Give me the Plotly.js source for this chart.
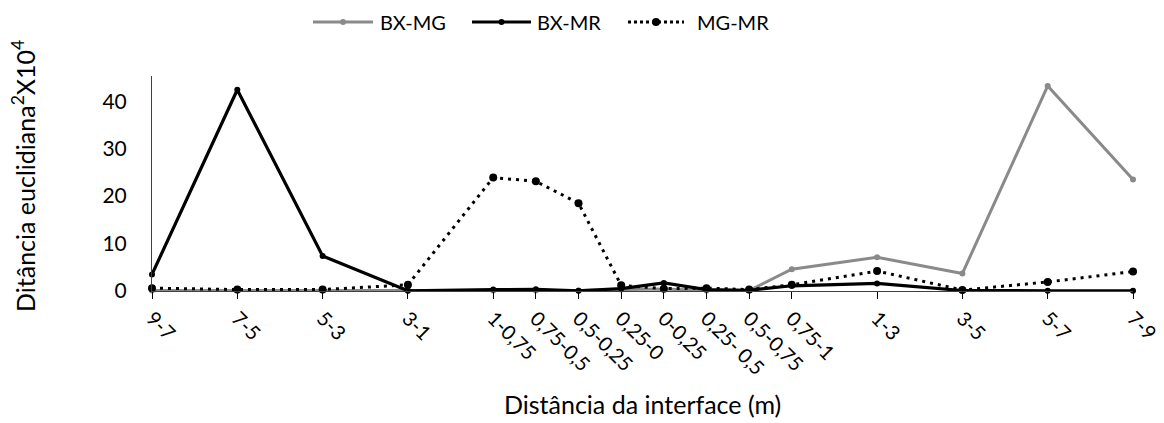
<!DOCTYPE html>
<html>
<head>
<meta charset="utf-8">
<script src="https://cdn.plot.ly/plotly-3.0.1.min.js"></script>
<style>html,body{margin:0;padding:0;background:#fff;}#chart{width:1164px;height:423px;}</style>
</head>
<body>
<div id="chart"></div>
<script>
// ---- data ----
var categories = ["9-7","7-5","5-3","3-1","1-0,75","0,75-0,5","0,5-0,25","0,25-0","0-0,25","0,25- 0,5","0,5-0,75","0,75-1","1-3","3-5","5-7","7-9"];
var xPos = [0,2,4,6,8,9,10,11,12,13,14,15,17,19,21,23];
var bxmg = [0.1,0.1,0.1,0.1,0.1,0.1,0.1,0.3,0.4,0.1,0.1,4.6,7.1,3.7,43.2,23.5];
var bxmr = [3.5,42.4,7.4,0.05,0.3,0.35,0.05,0.5,1.7,0.3,0.15,1.1,1.6,0.1,0.05,0.05];
var mgmr = [0.6,0.3,0.3,1.3,23.9,23.1,18.5,1.2,0.5,0.6,0.3,1.3,4.2,0.2,1.9,4.1];
var seriesNames = ["BX-MG","BX-MR","MG-MR"];

var FONT = "Lato, 'Open Sans', sans-serif";
var GRAY = "#8a8a8a";

// pixel helpers for the plot box (left 152, right 1133, top 76, bottom 291)
var L = 152, R = 1133, T = 76, B = 291;
function px(x){ return (x - L) / (R - L); }
function py(y){ return (B - y) / (B - T); }

var traces = [
  {x: xPos, y: bxmg, name: seriesNames[0], mode: "lines+markers", cliponaxis: false,
   line: {color: GRAY, width: 3}, marker: {color: GRAY, size: 6}},
  {x: xPos, y: bxmr, name: seriesNames[1], mode: "lines+markers", cliponaxis: false,
   line: {color: "#000", width: 3.2}, marker: {color: "#000", size: 6}},
  {x: xPos, y: mgmr, name: seriesNames[2], mode: "lines+markers", cliponaxis: false,
   line: {color: "#000", width: 3, dash: "3px,5px"}, marker: {color: "#000", size: 8}}
];

// manual legend
var legendItems = [
  {x0: 313, x1: 373, tx: 378, dash: "solid", color: GRAY, w: 3, ms: 6},
  {x0: 472, x1: 531, tx: 535, dash: "solid", color: "#000", w: 3.2, ms: 6},
  {x0: 628, x1: 684, tx: 695, dash: "dot", color: "#000", w: 3, ms: 8}
];
var LY = 22;
var shapes = [], annotations = [];
legendItems.forEach(function(it, i){
  shapes.push({type: "line", xref: "paper", yref: "paper", x0: px(it.x0), x1: px(it.x1), y0: py(LY), y1: py(LY),
    line: {color: it.color, width: it.w, dash: it.dash}});
  var cx = (it.x0 + it.x1) / 2, r = it.ms / 2;
  shapes.push({type: "circle", xref: "paper", yref: "paper", x0: px(cx - r), x1: px(cx + r), y0: py(LY + r), y1: py(LY - r),
    fillcolor: it.color, line: {color: it.color, width: 0}});
  annotations.push({xref: "paper", yref: "paper", x: px(it.tx), y: py(LY), xanchor: "left", yanchor: "middle",
    showarrow: false, text: seriesNames[i], font: {family: FONT, size: 20, color: "#000"}});
});
annotations.push({xref: "paper", yref: "paper", x: 0.5, y: py(404), xanchor: "center", yanchor: "middle",
  showarrow: false, text: "Distância da interface (m)", font: {family: FONT, size: 25, color: "#000"}});
annotations.push({xref: "paper", yref: "paper", x: px(23), y: py(176), xanchor: "center", yanchor: "middle", textangle: -90,
  showarrow: false, text: "Ditância euclidiana<sup>2</sup>X10<sup>4</sup>", font: {family: FONT, size: 25, color: "#000"}});

var layout = {
  width: 1164, height: 423,
  margin: {l: L, r: 1164 - R, t: T, b: 423 - B, pad: 0},
  paper_bgcolor: "#fff", plot_bgcolor: "#fff",
  showlegend: false,
  font: {family: FONT, size: 20, color: "#000"},
  xaxis: {range: [0, 23], tickmode: "array", tickvals: xPos, ticktext: categories, tickangle: 45,
    ticks: "outside", ticklen: 7, tickcolor: "#000", tickwidth: 1,
    showline: true, linecolor: "#404040", linewidth: 1, showgrid: false, zeroline: false,
    tickfont: {family: FONT, size: 20, color: "#000"}, fixedrange: true},
  yaxis: {range: [0, 45.3], tickvals: [0,10,20,30,40], ticks: "", showline: true, linecolor: "#404040", linewidth: 1,
    showgrid: false, zeroline: false, ticklabelstandoff: 20,
    tickfont: {family: FONT, size: 21, color: "#000"}, fixedrange: true},
  shapes: shapes,
  annotations: annotations
};

Plotly.newPlot("chart", traces, layout, {displayModeBar: false, staticPlot: true});
</script>
</body>
</html>
